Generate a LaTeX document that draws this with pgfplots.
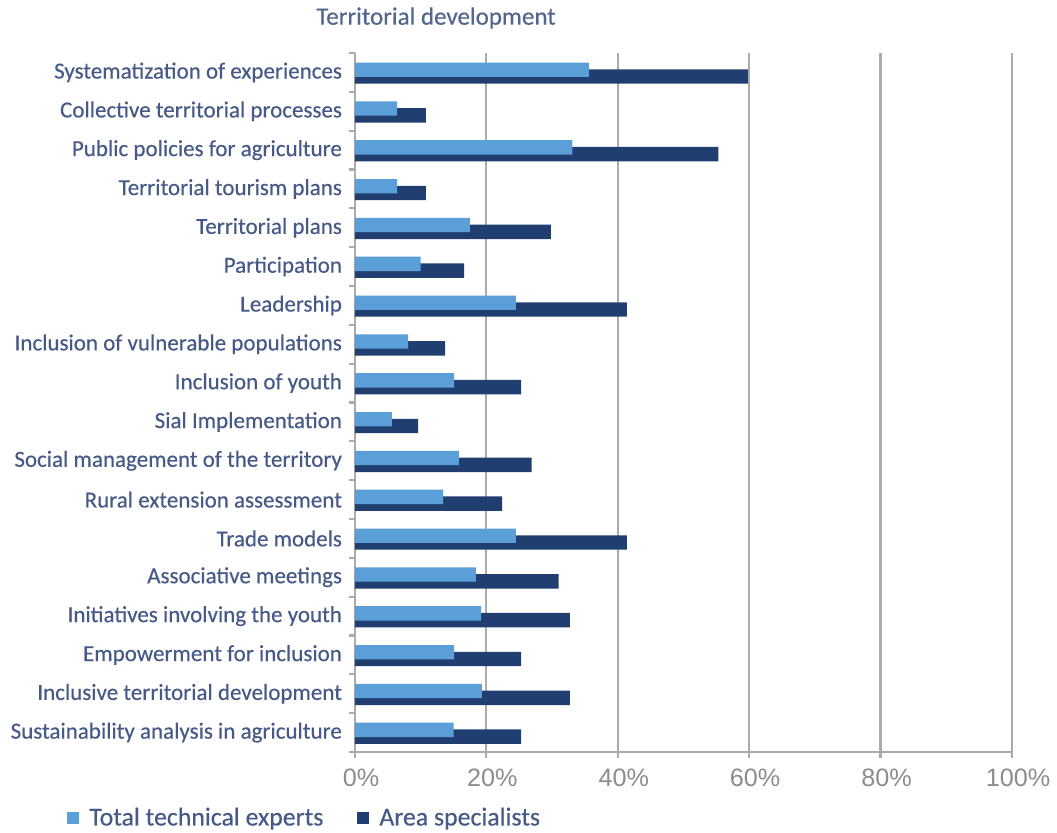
\documentclass[border=0pt]{standalone}
\usepackage{fontspec}
\setmainfont{Carlito}[FakeBold=0.4]
\newfontfamily\lblfont{Carlito}[FakeBold=0.4]
\newfontfamily\tickfont{Liberation Sans}
\usepackage{pgfplots}
\pgfplotsset{compat=1.18}
\definecolor{lightb}{HTML}{5B9FD8}
\definecolor{darkb}{HTML}{203F70}
\definecolor{labelc}{HTML}{475A87}
\definecolor{titlec}{HTML}{52668F}
\definecolor{gridc}{HTML}{ABABAB}
\definecolor{tickc}{HTML}{8C8C8C}
\begin{document}
\begin{tikzpicture}
\begin{axis}[
 at={(0pt,0pt)}, anchor=south west,
 scale only axis, width=328.5pt, height=349.5pt,
 xmin=0, xmax=100, ymin=-0.5, ymax=17.5, y dir=reverse,
 xbar, bar width=0.37,
 axis x line*=bottom, axis y line*=left,
 axis line style={gridc, line width=1.1pt},
 xtick={0,20,40,60,80,100},
 xmajorgrids, major grid style={gridc, line width=1.1pt},
 xticklabel={\pgfmathprintnumber{\tick}\%},
 xticklabel style={font=\tickfont\fontsize{12.6}{14}\selectfont, text=tickc, yshift=-2pt, xshift=3pt},
 /pgf/number format/assume math mode=true,
 ytick={0,...,17},
 yticklabels={Systematization of experiences, Collective territorial processes, Public policies for agriculture, Territorial tourism plans, Territorial plans, Participation, Leadership, Inclusion of vulnerable populations, Inclusion of youth, Sial Implementation, Social management of the territory, Rural extension assessment, Trade models, Associative meetings, Initiatives involving the youth, Empowerment for inclusion, Inclusive territorial development, Sustainability analysis in agriculture},
 yticklabel style={font=\lblfont\fontsize{11.5}{13}\selectfont, text=labelc},
 minor ytick={-0.5,0.5,...,17.5},
 tick align=outside, major tick length=3pt, minor tick length=3pt,
 tick style={gridc, line width=1.1pt},
 every major y tick/.style={draw=none},
 legend style={at={(-0.4475,-0.0944)}, anchor=west, draw=none, fill=none, legend columns=2, font=\lblfont\fontsize{12.9}{14}\selectfont, text=labelc, /tikz/every even column/.append style={column sep=15pt}},
 legend cell align=left,
 reverse legend,
]
\addplot[fill=darkb, draw=none, bar shift=0.105, legend image code/.code={\fill[darkb] (0pt,-3pt) rectangle (6pt,3pt); \path (9pt,0pt);}] coordinates {
(59.8,0) (10.8,1) (55.3,2) (10.8,3) (29.8,4) (16.6,5) (41.4,6) (13.7,7) (25.3,8) (9.6,9) (26.9,10) (22.4,11) (41.4,12) (31.0,13) (32.7,14) (25.3,15) (32.7,16) (25.3,17)};
\addlegendentry{Area specialists}
\addplot[fill=lightb, draw=none, bar shift=-0.07, legend image code/.code={\fill[lightb] (0pt,-3pt) rectangle (6pt,3pt); \path (9pt,0pt);}] coordinates {
(35.6,0) (6.4,1) (33.1,2) (6.4,3) (17.5,4) (10.0,5) (24.5,6) (8.1,7) (15.1,8) (5.6,9) (15.8,10) (13.4,11) (24.5,12) (18.4,13) (19.2,14) (15.1,15) (19.3,16) (15.0,17)};
\addlegendentry{Total technical experts}
\end{axis}
\node[font=\lblfont\fontsize{12.5}{15}\selectfont, text=titlec] at (40.5pt,367pt) {Territorial development};
\pgfresetboundingbox
\path[use as bounding box] (-177.5pt,-40pt) rectangle (351pt,376pt);
\end{tikzpicture}
\end{document}
